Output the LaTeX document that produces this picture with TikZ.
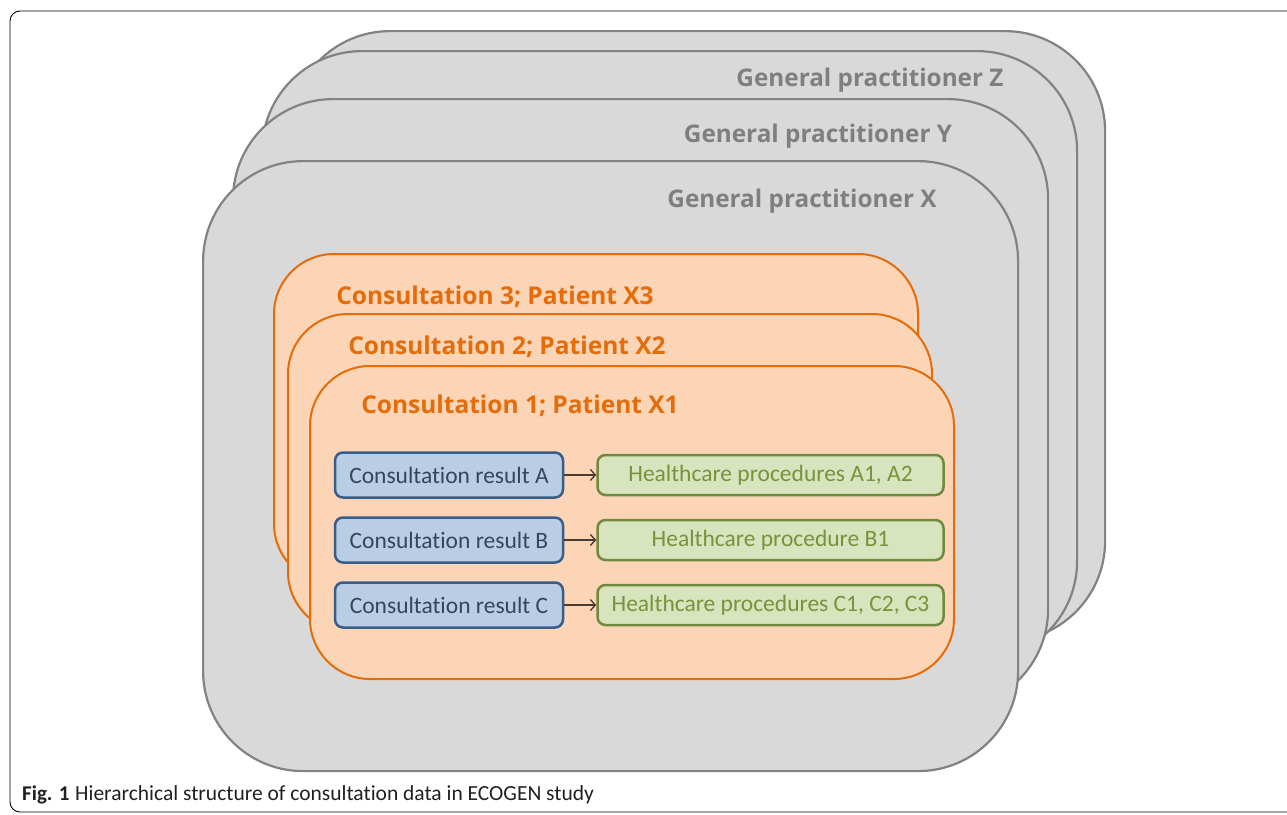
\documentclass[tikz,border=0pt]{standalone}
\usepackage{fontspec}
\setmainfont{Carlito}[Ligatures={NoCommon}]
\newfontfamily\gpfont{Open Sans}
\usetikzlibrary{positioning,arrows.meta}

\definecolor{gpfill}{HTML}{D9D9D9}
\definecolor{gpline}{HTML}{828282}
\definecolor{gptext}{HTML}{7F7F7F}
\definecolor{consfill}{HTML}{FBD5B5}
\definecolor{consline}{HTML}{E46C0A}
\definecolor{resfill}{HTML}{B9CDE5}
\definecolor{resline}{HTML}{385D8A}
\definecolor{restext}{HTML}{34465E}
\definecolor{procfill}{HTML}{D7E4BD}
\definecolor{procline}{HTML}{71893F}
\definecolor{proctext}{HTML}{77933C}
\definecolor{linkcol}{HTML}{4A3B30}
\definecolor{captext}{HTML}{231F20}

\tikzset{
  gpbox/.style={draw=gpline, fill=gpfill, line width=2.2pt, rounded corners=100pt,
    anchor=north west, minimum width=815pt, minimum height=610pt, inner sep=0pt},
  gplabel/.style={text=gptext, font=\gpfont\bfseries\fontsize{24.3}{28}\selectfont},
  consbox/.style={draw=consline, fill=consfill, line width=2pt, rounded corners=60pt,
    anchor=north west, minimum width=644pt, inner sep=0pt},
  conslabel/.style={text=consline, font=\gpfont\bfseries\fontsize{24.5}{28}\selectfont},
  resbox/.style={draw=resline, fill=resfill, line width=2.5pt, rounded corners=8pt,
    minimum width=228pt, minimum height=45pt, inner sep=0pt, text=restext,
    font=\fontsize{23.5}{28}\selectfont},
  procbox/.style={draw=procline, fill=procfill, line width=2.5pt, rounded corners=8pt,
    minimum width=346pt, minimum height=40pt, inner sep=0pt, text=proctext,
    font=\fontsize{23.5}{28}\selectfont},
  link/.style={-{Straight Barb[length=5pt, width=11pt]}, line width=1.3pt, draw=linkcol}
}

\begin{document}
\begin{tikzpicture}[x=1pt, y=-1pt]
    \useasboundingbox (0,0) rectangle (1287,814);

    % Cadre de la figure
    \draw[black, line width=0.9pt, rounded corners=10pt] (10,11) rectangle (1330,812);

    % Médecins généralistes (de l'arrière vers l'avant)
    \foreach \name/\x/\y in {gpW/289/30, gpZ/261/50, gpY/232/98, gpX/202/160} {
        \node[gpbox] (\name) at (\x,\y) {};
    }
    \node[gplabel] (labZ) at (870,80) {General practitioner Z};
    \node[gplabel] (labY) at (818,136) {General practitioner Y};
    \node[gplabel] (labX) at (802,201) {General practitioner X};

    % Consultations
    \foreach \name/\x/\y/\h in {cons3/273/253/330, cons2/287/313/318, cons1/309/365/313} {
        \node[consbox, minimum height=\h pt] (\name) at (\x,\y) {};
    }
    \node[conslabel] (labC3) at (495,297) {Consultation 3; Patient X3};
    \node[conslabel] (labC2) at (507,347) {Consultation 2; Patient X2};
    \node[conslabel] (labC1) at (520,406) {Consultation 1; Patient X1};

    % Résultats et procédures
    \node[resbox] (resA) at (449,475) {Consultation result A};
    \node[resbox] (resB) at (449,540) {Consultation result B};
    \node[resbox] (resC) at (449,605) {Consultation result C};

    \node[procbox, right=32pt of resA] (procA) {Healthcare procedures A1, A2};
    \node[procbox, right=32pt of resB] (procB) {Healthcare procedure B1};
    \node[procbox, right=32pt of resC] (procC) {Healthcare procedures C1, C2, C3};

    \foreach \r in {A,B,C} {
        \draw[link] (res\r) -- (proc\r);
    }

    % Légende
    \node[anchor=base west, text=captext, font=\bfseries\fontsize{21}{25}\selectfont, inner sep=0pt]
        (figno) at (22,800) {Fig. 1};
    \node[anchor=base west, text=captext, font=\fontsize{21.5}{25}\selectfont, inner sep=0pt]
        (caption) at (75,800) {Hierarchical structure of consultation data in ECOGEN study};
\end{tikzpicture}
\end{document}
